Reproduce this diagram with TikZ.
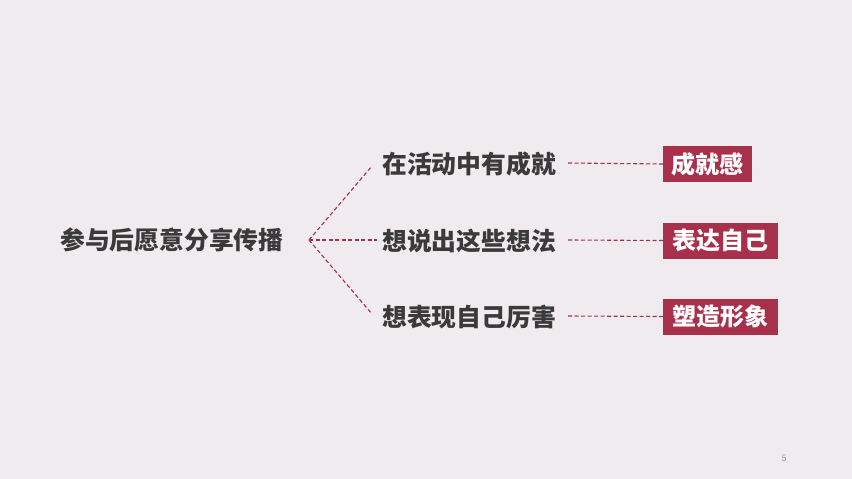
\documentclass[tikz,border=0pt]{standalone}
\usepackage{fontspec}
\newfontfamily\cjk{Noto Sans CJK SC}
\definecolor{bg}{HTML}{EFEBEE}
\definecolor{darktext}{HTML}{3A3A3A}
\definecolor{accent}{HTML}{A9304A}
\definecolor{pagegray}{HTML}{9A9A9A}
\tikzset{
  maintext/.style={font=\cjk\bfseries\fontsize{24.8}{28}\selectfont, text=darktext, inner sep=0pt, anchor=west},
  tagbox/.style={fill=accent, text=white, font=\cjk\bfseries\fontsize{24}{27}\selectfont, inner xsep=3pt, anchor=west, minimum height=36pt},
  dashline/.style={draw=accent, line width=1.1pt, dash pattern=on 4pt off 2.5pt}
}
\begin{document}
\begin{tikzpicture}[x=1pt,y=-1pt]
\fill[bg] (0,0) rectangle (852,479);
\useasboundingbox (0,0) rectangle (852,479);
\node[maintext] (root) at (60,240) {参与后愿意分享传播};
\coordinate (fork) at (309,240);
\node[maintext] (a) at (382,164) {在活动中有成就};
\node[maintext] (b) at (382,241) {想说出这些想法};
\node[maintext] (c) at (382,317) {想表现自己厉害};
\coordinate (a1) at (372,166);
\coordinate (b1) at (377,240);
\coordinate (c1) at (372,314);
\draw[dashline] (fork) -- (a1);
\draw[dashline] (fork) -- (b1);
\draw[dashline] (fork) -- (c1);
\node[tagbox, minimum width=89pt] (ta) at (663,164) {成就感};
\node[tagbox, minimum width=115pt] (tb) at (663,240.5) {表达自己};
\node[tagbox, minimum width=115pt] (tc) at (663,316.5) {塑造形象};
\draw[dashline] (568,163) -- (ta.west);
\draw[dashline] (568,240) -- (tb.west);
\draw[dashline] (568,316) -- (tc.west);
\node[font=\cjk\fontsize{9}{10}\selectfont, text=pagegray, inner sep=0pt] (pg) at (784,458) {5};
\end{tikzpicture}
\end{document}
